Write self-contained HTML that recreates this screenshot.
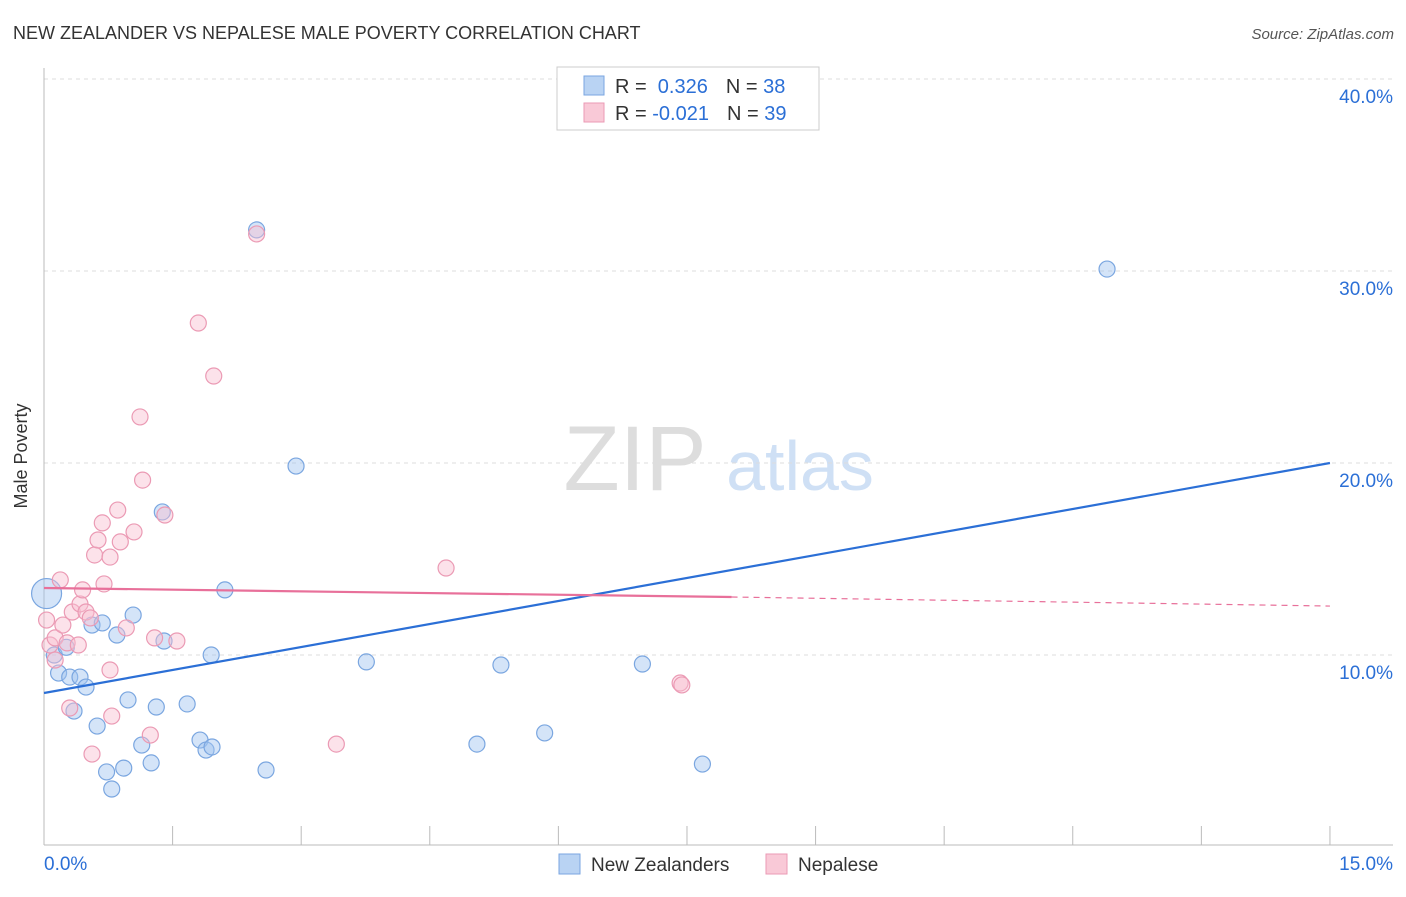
<!DOCTYPE html>
<html><head><meta charset="utf-8"><style>
body{margin:0;background:#fff;font-family:"Liberation Sans",sans-serif;}
svg text{font-family:"Liberation Sans",sans-serif;}
</style></head><body>
<svg id="c" width="1406" height="892" viewBox="0 0 1406 892" xmlns="http://www.w3.org/2000/svg">
<text x="13" y="39" font-size="18" fill="#333">NEW ZEALANDER VS NEPALESE MALE POVERTY CORRELATION CHART</text>
<text x="1394" y="39" font-size="15" fill="#555" font-style="italic" text-anchor="end">Source: ZipAtlas.com</text>
<text x="27" y="456" font-size="18" fill="#333" text-anchor="middle" transform="rotate(-90 27 456)">Male Poverty</text>
<g><text x="635" y="490" font-size="92" fill="#ddd" font-family="Liberation Serif" text-anchor="middle">ZIP</text><text x="800" y="490" font-size="70" fill="#cfe0f5" text-anchor="middle">atlas</text></g>
<g id="grid"></g><g id="axes"></g><g id="marks"></g>
<g>
<rect x="557" y="67" width="262" height="63" fill="#fff" stroke="#ccc"/>
<rect x="584" y="76" width="20" height="19" fill="#b9d3f3" stroke="#7aa6e0"/>
<rect x="584" y="103" width="20" height="19" fill="#f9c9d7" stroke="#eb9ab4"/>
<text x="615" y="93" font-size="20" fill="#333">R = <tspan fill="#2b6fd6">&#160;0.326</tspan><tspan dx="18" fill="#333">N = </tspan><tspan fill="#2b6fd6">38</tspan></text>
<text x="615" y="120" font-size="20" fill="#333">R = <tspan fill="#2b6fd6">-0.021</tspan><tspan dx="18" fill="#333">N = </tspan><tspan fill="#2b6fd6">39</tspan></text>
</g>
<g>
<rect x="559" y="854" width="21" height="20" fill="#b9d3f3" stroke="#7aa6e0"/>
<text x="591" y="871" font-size="19" fill="#333">New Zealanders</text>
<rect x="766" y="854" width="21" height="20" fill="#f9c9d7" stroke="#eb9ab4"/>
<text x="798" y="871" font-size="19" fill="#333">Nepalese</text>
</g>
</svg>
<script>
const yTicks=[10,20,30,40];
const yTickLabels=["10.0%","20.0%","30.0%","40.0%"];
const xTickLabels=["0.0%","15.0%"];
const blueX=[0.03,0.12,0.17,0.26,0.30,0.35,0.42,0.49,0.56,0.62,0.68,0.73,0.79,0.85,0.93,0.98,1.04,1.14,1.25,1.31,1.38,1.40,1.67,1.82,1.89,1.96,1.95,2.11,2.48,2.59,2.94,3.76,5.05,5.33,5.84,6.98,7.68,12.40];
const blueY=[13.2,10.0,9.06,10.4,8.85,7.08,8.85,8.33,11.56,6.30,11.67,3.91,3.02,11.04,4.11,7.66,12.08,5.31,4.38,7.29,17.45,10.73,7.45,5.57,5.05,5.21,10.0,13.39,32.14,4.01,19.84,9.64,5.36,9.48,5.94,9.53,4.32,30.1];
const pinkX=[0.03,0.07,0.13,0.19,0.22,0.27,0.30,0.33,0.40,0.42,0.45,0.49,0.54,0.56,0.59,0.63,0.68,0.70,0.77,0.77,0.79,0.86,0.89,0.96,1.05,1.12,1.15,1.24,1.29,1.41,1.55,1.80,1.98,2.48,3.41,4.69,7.42,7.44,0.13];
const pinkY=[11.82,10.52,10.89,13.91,11.56,10.63,7.24,12.24,10.52,12.66,13.39,12.24,11.93,4.84,15.21,15.99,16.88,13.70,15.10,9.22,6.82,17.55,15.89,11.41,16.41,22.4,19.11,5.83,10.89,17.29,10.73,27.29,24.53,31.93,5.36,14.53,8.54,8.44,9.74];
const blueTrend=[8.02,20.0];
const pinkTrend=[13.49,13.02,12.55];
const pinkSolidEnd=8.02;

const X=v=>44+v*85.73, Y=v=>847-v*19.2;
const NS="http://www.w3.org/2000/svg";
function mk(p,t,a){const e=document.createElementNS(NS,t);for(const k in a)e.setAttribute(k,a[k]);document.getElementById(p).appendChild(e);return e;}
yTicks.forEach((t,i)=>{
 const l=mk('grid','line',{x1:44,x2:1393,y1:Y(t),y2:Y(t),stroke:'#ddd','stroke-dasharray':'4,4'});
 
 
 const tx=mk('grid','text',{x:1393,y:Y(t)+24,'font-size':19,fill:'#2b6fd6','text-anchor':'end'});tx.textContent=yTickLabels[i];
 
 
});
const ya=mk('axes','line',{x1:44,x2:44,y1:68,y2:845,stroke:'#bbb'});


const xa=mk('axes','line',{x1:44,x2:1393,y1:845,y2:845,stroke:'#bbb'});


for(let i=1;i<=10;i++){const t=mk('axes','line',{x1:X(i*1.5),x2:X(i*1.5),y1:826,y2:845,stroke:'#bbb'});
 
 }
[[0,'start',44],[15,'end',1393]].forEach((d,i)=>{const t=mk('axes','text',{x:d[2],y:870,'font-size':19,fill:'#2b6fd6','text-anchor':d[1]});t.textContent=xTickLabels[i];
 
 });
blueX.forEach((x,i)=>{const c=mk('marks','circle',{cx:X(x),cy:Y(blueY[i]),r:i==0?15:8,fill:'rgba(160,196,240,0.45)',stroke:'#7aa6e0','stroke-width':1.2});
 
 });
pinkX.forEach((x,i)=>{const c=mk('marks','circle',{cx:X(x),cy:Y(pinkY[i]),r:8,fill:'rgba(248,190,208,0.45)',stroke:'#eb9ab4','stroke-width':1.2});
 
 });
const bl=mk('marks','line',{x1:X(0),y1:Y(blueTrend[0]),x2:X(15),y2:Y(blueTrend[1]),stroke:'#2b6fd6','stroke-width':2.2});


const pl=mk('marks','line',{x1:X(0),y1:Y(pinkTrend[0]),x2:X(pinkSolidEnd),y2:Y(pinkTrend[1]),stroke:'#e8709a','stroke-width':2.2});


const pd=mk('marks','line',{x1:X(pinkSolidEnd),y1:Y(pinkTrend[1]),x2:X(15),y2:Y(pinkTrend[2]),stroke:'#e8709a','stroke-width':1.2,'stroke-dasharray':'6,5'});


</script>
</body></html>
